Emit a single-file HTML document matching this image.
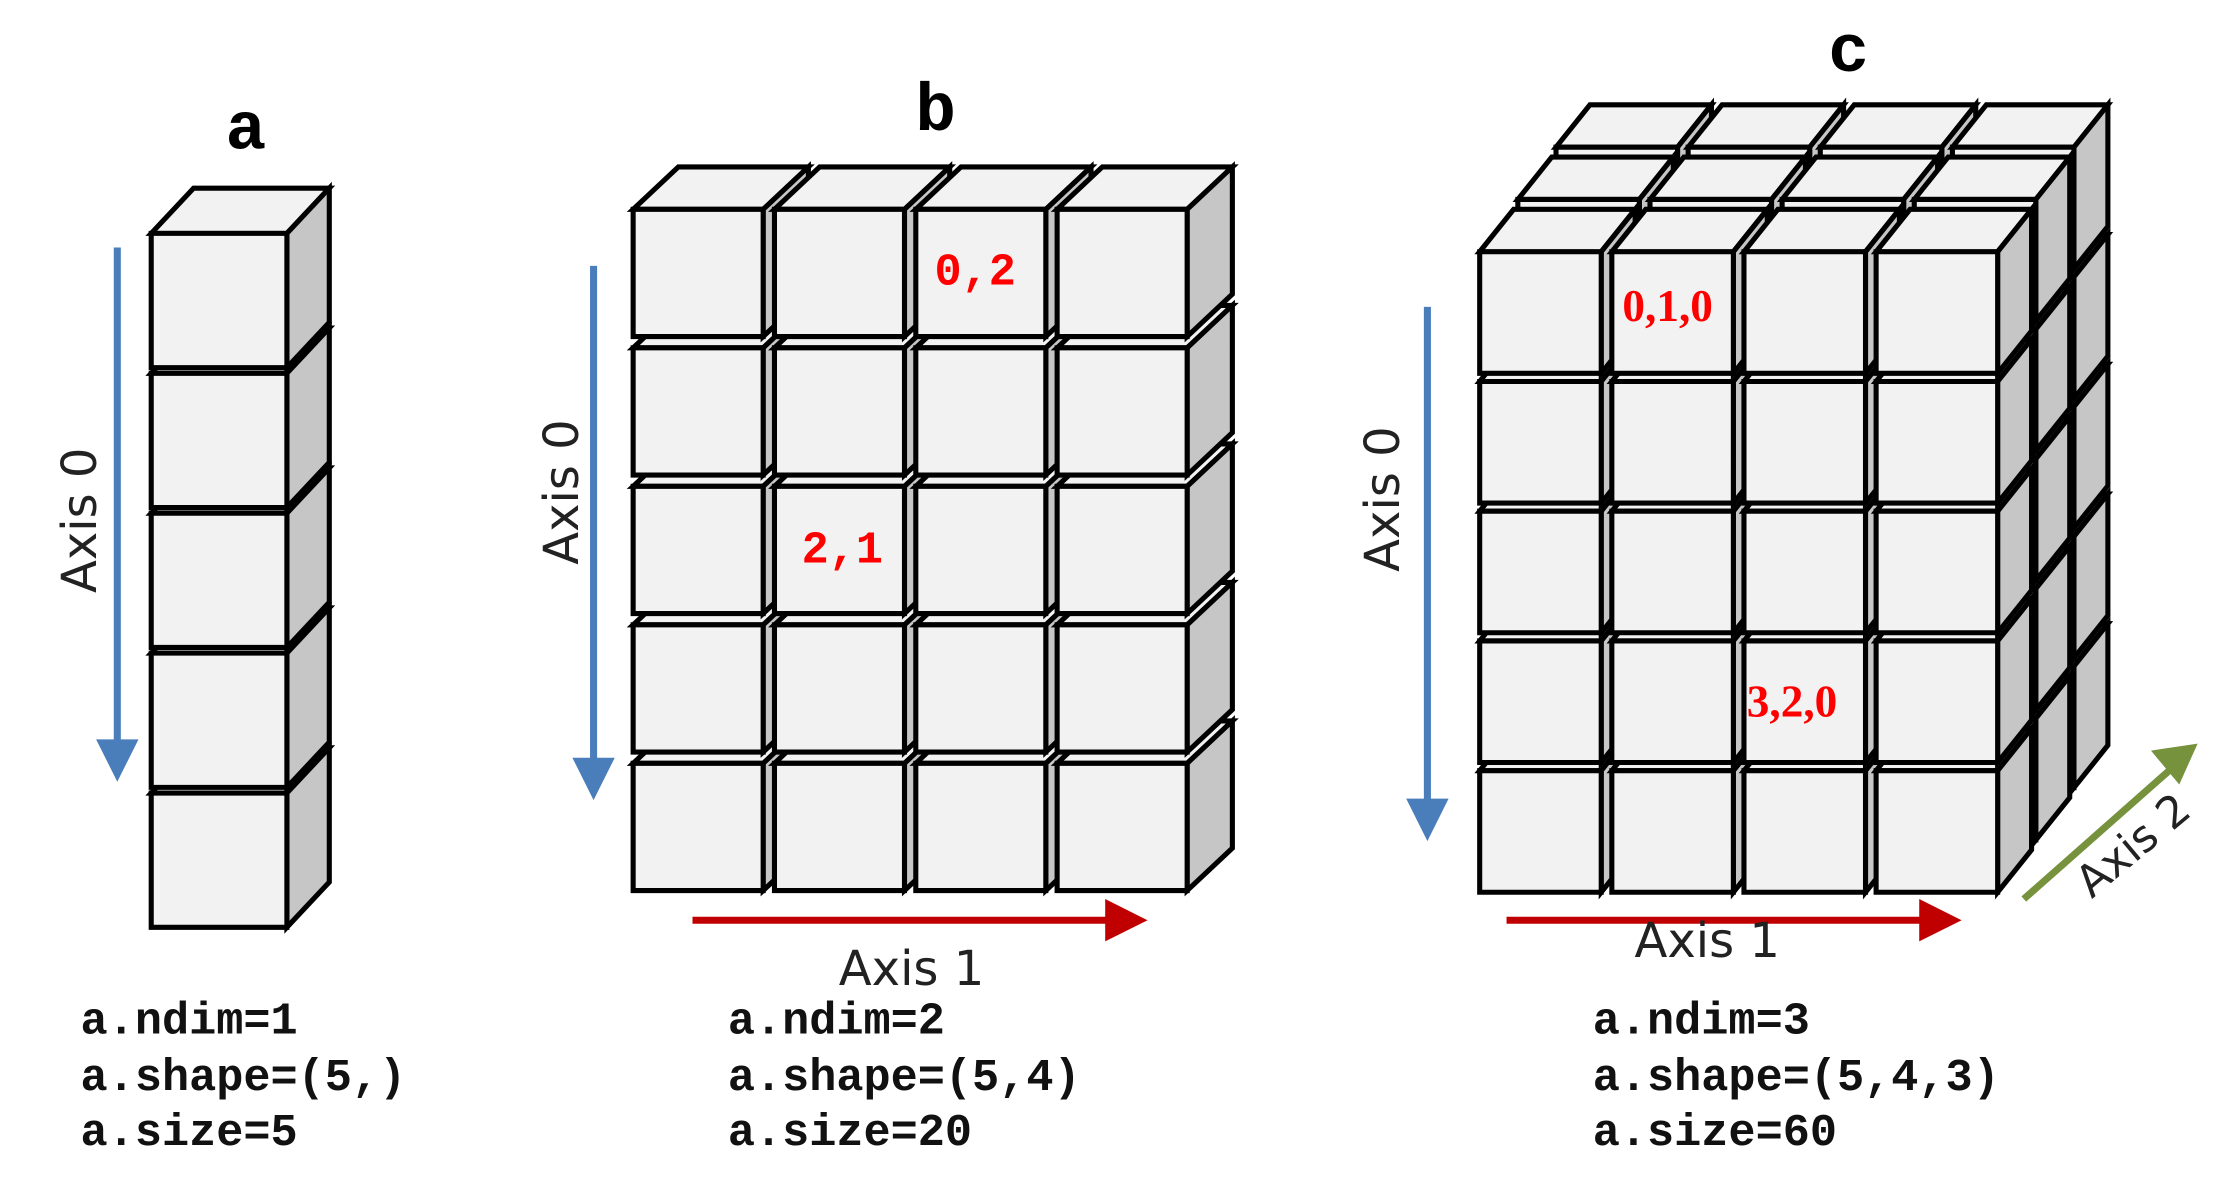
<!DOCTYPE html>
<html><head><meta charset="utf-8"><style>
html,body{margin:0;padding:0;background:#fff;}
svg{display:block;}
</style></head><body>
<svg id="fig" width="2216" height="1196" viewBox="0 0 1568 846" xmlns="http://www.w3.org/2000/svg">
<g id="cubes"></g>
<g>
<text x="174" y="105" font-family="Liberation Mono, monospace" font-weight="bold" font-size="48" text-anchor="middle">a</text>
<line x1="83" y1="175" x2="83" y2="528" stroke="#4a7ebb" stroke-width="5"/>
<polygon points="68,523 98,523 83,553" fill="#4a7ebb"/>
<text transform="translate(68,368) rotate(-90)" font-family="DejaVu Sans, sans-serif" font-size="34" text-anchor="middle" fill="#222">Axis 0</text>
</g>
<g>
<text x="662" y="92" font-family="Liberation Mono, monospace" font-weight="bold" font-size="48" text-anchor="middle">b</text>
<line x1="420" y1="188" x2="420" y2="540" stroke="#4a7ebb" stroke-width="5"/>
<polygon points="405,536 435,536 420,566" fill="#4a7ebb"/>
<text transform="translate(409,348) rotate(-90)" font-family="DejaVu Sans, sans-serif" font-size="34" text-anchor="middle" fill="#222">Axis 0</text>
<line x1="490" y1="651" x2="786" y2="651" stroke="#c00000" stroke-width="5"/>
<polygon points="782,636 812,651 782,666" fill="#c00000"/>
<text x="645" y="697" font-family="DejaVu Sans, sans-serif" font-size="34" text-anchor="middle" fill="#222">Axis 1</text>
</g>
<g>
<text x="1308" y="50" font-family="Liberation Mono, monospace" font-weight="bold" font-size="48" text-anchor="middle">c</text>
<line x1="1010" y1="217" x2="1010" y2="568" stroke="#4a7ebb" stroke-width="5"/>
<polygon points="995,565 1025,565 1010,595" fill="#4a7ebb"/>
<text transform="translate(990,353) rotate(-90)" font-family="DejaVu Sans, sans-serif" font-size="34" text-anchor="middle" fill="#222">Axis 0</text>
<line x1="1066" y1="651" x2="1362" y2="651" stroke="#c00000" stroke-width="5"/>
<polygon points="1358,636 1388,651 1358,666" fill="#c00000"/>
<text x="1208" y="677" font-family="DejaVu Sans, sans-serif" font-size="34" text-anchor="middle" fill="#222">Axis 1</text>
<line x1="1432" y1="636" x2="1535" y2="545" stroke="#76923c" stroke-width="5"/>
<polygon points="1522,531 1555,526 1542,555" fill="#76923c"/>
<text transform="translate(1516,606) rotate(-40)" font-family="DejaVu Sans, sans-serif" font-size="31" text-anchor="middle" fill="#222">Axis 2</text>
</g>
<g id="labels">
<text x="690" y="201" font-family="Liberation Mono, monospace" font-weight="bold" font-size="32" fill="#ff0000" text-anchor="middle">0,2</text>
<text x="596" y="398" font-family="Liberation Mono, monospace" font-weight="bold" font-size="32" fill="#ff0000" text-anchor="middle">2,1</text>
<text x="1180" y="227" font-family="Liberation Serif, serif" font-weight="bold" font-size="32" fill="#ff0000" text-anchor="middle">0,1,0</text>
<text x="1268" y="507" font-family="Liberation Serif, serif" font-weight="bold" font-size="32" fill="#ff0000" text-anchor="middle">3,2,0</text>
</g>
<g font-family="Liberation Mono, monospace" font-weight="bold" font-size="32" fill="#111">
<text x="57" y="731">a.ndim=1</text>
<text x="57" y="771">a.shape=(5,)</text>
<text x="57" y="810">a.size=5</text>
<text x="515" y="731">a.ndim=2</text>
<text x="515" y="771">a.shape=(5,4)</text>
<text x="515" y="810">a.size=20</text>
<text x="1127" y="731">a.ndim=3</text>
<text x="1127" y="771">a.shape=(5,4,3)</text>
<text x="1127" y="810">a.size=60</text>
</g>
</svg>
<script>
// array shapes: rows (axis 0), cols (axis 1), layers (axis 2)
const panelNames = ['a', 'b', 'c'];
const shapeRows = [5, 5, 5];
const shapeCols = [1, 4, 4];
const shapeLayers = [1, 1, 3];

// geometry (layout, not data)
const geo = {
  a: {x0: 107, y0: 165, w: 96, h: 95, px: 0, py: 99, dx: 30, dy: -32, lx: 0, ly: 0},
  b: {x0: 448, y0: 148, w: 92, h: 90, px: 100, py: 98, dx: 32, dy: -30, lx: 0, ly: 0},
  c: {x0: 1047, y0: 178, w: 86, h: 86, px: 93.5, py: 91.8, dx: 24, dy: -30, lx: 27, ly: -37}
};
const NS = 'http://www.w3.org/2000/svg';
const layer = document.getElementById('cubes');

function poly(pts, fill, g) {
  const p = document.createElementNS(NS, 'polygon');
  p.setAttribute('points', pts.map(q => q.join(',')).join(' '));
  p.setAttribute('fill', fill);
  p.setAttribute('stroke', '#000');
  p.setAttribute('stroke-width', '3.6');
  p.setAttribute('stroke-linejoin', 'miter');
  g.appendChild(p);
}

panelNames.forEach((name, i) => {
  const G = geo[name];
  const rows = shapeRows[i], cols = shapeCols[i], lays = shapeLayers[i];
  for (let k = lays - 1; k >= 0; k--) {
    for (let r = rows - 1; r >= 0; r--) {
      for (let c = 0; c < cols; c++) {
        const x = G.x0 + c * G.px + k * G.lx;
        const y = G.y0 + r * G.py + k * G.ly;
        const g = document.createElementNS(NS, 'g');
        
        
        const w = G.w, h = G.h, dx = G.dx, dy = G.dy;
        poly([[x, y], [x + dx, y + dy], [x + w + dx, y + dy], [x + w, y]], '#f2f2f2', g);
        poly([[x + w, y], [x + w + dx, y + dy], [x + w + dx, y + h + dy], [x + w, y + h]], '#c6c6c6', g);
        poly([[x, y], [x + w, y], [x + w, y + h], [x, y + h]], '#f2f2f2', g);
        layer.appendChild(g);
      }
    }
  }
});
</script>
</body></html>
